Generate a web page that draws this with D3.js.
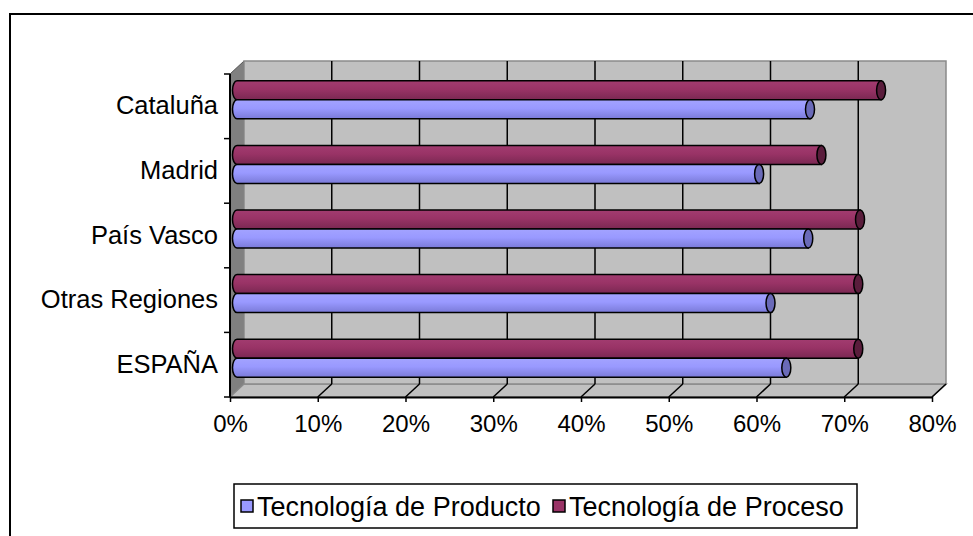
<!DOCTYPE html>
<html>
<head>
<meta charset="utf-8">
<script src="https://cdn.jsdelivr.net/npm/d3@7"></script>
<style>
  body { margin: 0; background: #fff; }
  svg text { font-family: "Liberation Sans", Arial, sans-serif; fill: #000; }
</style>
</head>
<body>
<div id="chart"></div>
<script>
// data, top to bottom as drawn
const categories = ['Cataluña', 'Madrid', 'País Vasco', 'Otras Regiones', 'ESPAÑA'];
const seriesNames = ['Tecnología de Producto', 'Tecnología de Proceso'];
const producto = [0.653, 0.595, 0.651, 0.608, 0.626];
const proceso = [0.734, 0.666, 0.710, 0.708, 0.708];
const xTicks = [0, 0.1, 0.2, 0.3, 0.4, 0.5, 0.6, 0.7, 0.8];

const W = 973, H = 536;
const plot = {left: 230, right: 932, top: 74, bottom: 397};
const depth = {dx: 14, dy: -13};
const colors = {
    'Tecnología de Producto': {light: '#a3a3ff', base: '#9999ff', dark: '#7a7ad8', cap: '#6a6ab8'},
    'Tecnología de Proceso': {light: '#a23c70', base: '#993366', dark: '#7a2852', cap: '#5a1d3c'}
};

const svg = d3.select('#chart').append('svg').attr('width', W).attr('height', H);

// gradients for the cylinders
const defs = svg.append('defs');
seriesNames.forEach((s, i) => {
    const g = defs.append('linearGradient').attr('id', 'grad' + i)
        .attr('x1', 0).attr('y1', 0).attr('x2', 0).attr('y2', 1);
    g.append('stop').attr('offset', '0%').attr('stop-color', colors[s].light);
    g.append('stop').attr('offset', '45%').attr('stop-color', colors[s].base);
    g.append('stop').attr('offset', '100%').attr('stop-color', colors[s].dark);
});

// outer frame
svg.append('rect').attr('x', 10).attr('y', 14).attr('width', 980).attr('height', 540)
    .attr('fill', 'none').attr('stroke', '#000').attr('stroke-width', 2);

// scales
const x = d3.scaleLinear().domain([0, 0.8]).range([plot.left, plot.right]);
const y = d3.scaleBand().domain(categories).range([plot.top, plot.bottom]);
const inner = d3.scaleBand().domain(['Tecnología de Proceso', 'Tecnología de Producto'])
    .range([0, y.bandwidth()]).paddingOuter(0.7);

// walls
const bx = v => x(v) + depth.dx;
svg.append('polygon')
    .attr('points', [[plot.left, plot.top], [plot.left + depth.dx, plot.top + depth.dy],
        [plot.left + depth.dx, plot.bottom + depth.dy], [plot.left, plot.bottom]].join(' '))
    .attr('fill', '#808080').attr('stroke', '#555').attr('stroke-width', 1);
svg.append('polygon')
    .attr('points', [[plot.left, plot.bottom], [plot.left + depth.dx, plot.bottom + depth.dy],
        [plot.right + depth.dx, plot.bottom + depth.dy], [plot.right, plot.bottom]].join(' '))
    .attr('fill', '#c0c0c0').attr('stroke', '#8a8a8a').attr('stroke-width', 1.5);
svg.append('rect')
    .attr('x', bx(0)).attr('y', plot.top + depth.dy)
    .attr('width', bx(0.8) - bx(0)).attr('height', plot.bottom - plot.top)
    .attr('fill', '#c0c0c0').attr('stroke', '#8a8a8a').attr('stroke-width', 1.5);

// gridlines on back wall and floor
const inside = xTicks.filter(t => t > 0 && t < 0.8);
svg.append('g').selectAll('line').data(inside).join('line')
    .attr('x1', d => bx(d)).attr('x2', d => bx(d))
    .attr('y1', plot.top + depth.dy).attr('y2', plot.bottom + depth.dy)
    .attr('stroke', '#000').attr('stroke-width', 1.5);
svg.append('g').selectAll('line').data(xTicks.filter(t => t > 0)).join('line')
    .attr('x1', d => x(d)).attr('x2', d => bx(d))
    .attr('y1', plot.bottom).attr('y2', plot.bottom + depth.dy)
    .attr('stroke', '#000').attr('stroke-width', 1.5);

// cylinders
const rx = 4.5;
const rows = [];
categories.forEach((c, i) => {
    rows.push({cat: c, s: 'Tecnología de Proceso', v: proceso[i], gi: 1});
    rows.push({cat: c, s: 'Tecnología de Producto', v: producto[i], gi: 0});
});
const bars = svg.append('g').selectAll('g').data(rows).join('g');
const bar = d => {
    const x0 = x(0) + depth.dx / 2, x1 = x(d.v) + depth.dx / 2;
    const y0 = y(d.cat) + inner(d.s) + depth.dy / 2, h = inner.bandwidth();
    return {x0, x1, y0, h};
};
bars.append('path')
    .attr('d', d => {
        const b = bar(d);
        const ry = b.h / 2;
        return `M${b.x0},${b.y0} L${b.x1},${b.y0} L${b.x1},${b.y0 + b.h} L${b.x0},${b.y0 + b.h}` +
            ` A${rx},${ry} 0 0 1 ${b.x0},${b.y0} Z`;
    })
    .attr('fill', d => `url(#grad${d.gi})`)
    .attr('stroke', '#000').attr('stroke-width', 1.5);
bars.append('ellipse')
    .attr('cx', d => bar(d).x1).attr('cy', d => bar(d).y0 + bar(d).h / 2)
    .attr('rx', rx).attr('ry', d => bar(d).h / 2)
    .attr('fill', d => colors[d.s].cap)
    .attr('stroke', '#000').attr('stroke-width', 1.5);

// front x axis
const xAxis = svg.append('g').attr('transform', `translate(0, ${plot.bottom})`)
    .call(d3.axisBottom(x).tickValues(xTicks).tickFormat(d3.format('.0%'))
        .tickSizeInner(5).tickSizeOuter(0).tickPadding(13));
xAxis.select('.domain').attr('stroke', '#000').attr('stroke-width', 2);
xAxis.selectAll('.tick line').attr('stroke', '#000').attr('stroke-width', 1.5);
xAxis.selectAll('text').style('font-size', '24px');

// left axis with ticks between categories
const yAxis = svg.append('g').attr('transform', `translate(${plot.left}, 0)`)
    .call(d3.axisLeft(y).tickSize(0).tickPadding(12));
yAxis.select('.domain').remove();
yAxis.selectAll('text').style('font-size', '25.5px');
svg.append('line').attr('x1', plot.left).attr('x2', plot.left)
    .attr('y1', plot.top).attr('y2', plot.bottom).attr('stroke', '#000').attr('stroke-width', 2);
svg.append('g').selectAll('line').data(d3.range(categories.length + 1)).join('line')
    .attr('x1', plot.left - 6).attr('x2', plot.left)
    .attr('y1', i => plot.top + i * y.step()).attr('y2', i => plot.top + i * y.step())
    .attr('stroke', '#000').attr('stroke-width', 1.5);

// legend
const legend = svg.append('g');
legend.append('rect').attr('x', 234).attr('y', 484).attr('width', 623).attr('height', 44)
    .attr('fill', '#fff').attr('stroke', '#000').attr('stroke-width', 1.5);
const legendX = [241, 553];
seriesNames.forEach((s, i) => {
    legend.append('rect').attr('x', legendX[i]).attr('y', 500).attr('width', 12).attr('height', 12)
        .attr('fill', colors[s].base).attr('stroke', '#000').attr('stroke-width', 1.5);
    legend.append('text').attr('x', legendX[i] + 16).attr('y', 516)
        .style('font-size', '27px').text(s);
});
</script>
</body>
</html>
